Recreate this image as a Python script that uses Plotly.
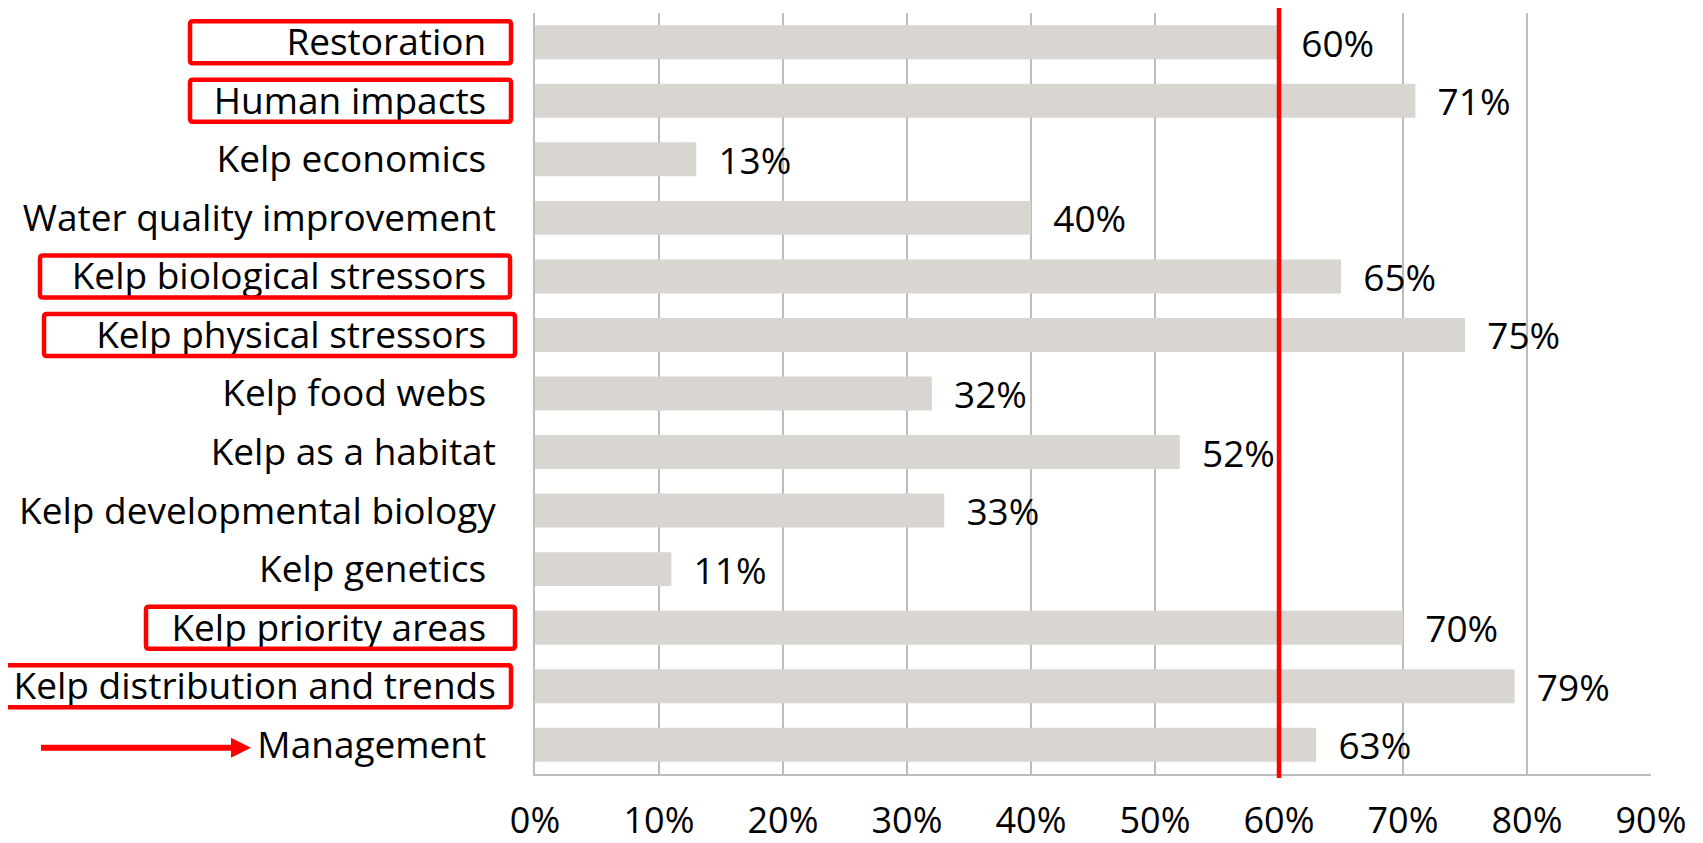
import plotly.graph_objects as go

# ---------------- data ----------------
categories = [
    "Restoration",
    "Human impacts",
    "Kelp economics",
    "Water quality improvement",
    "Kelp biological stressors",
    "Kelp physical stressors",
    "Kelp food webs",
    "Kelp as a habitat",
    "Kelp developmental biology",
    "Kelp genetics",
    "Kelp priority areas",
    "Kelp distribution and trends",
    "Management",
]
values = [60, 71, 13, 40, 65, 75, 32, 52, 33, 11, 70, 79, 63]
# labels that carry a trailing space in the original (shifted left a bit)
trailing_space = [True, True, True, False, True, True, True, False, False, True, True, False, True]
highlighted = ["Restoration", "Human impacts", "Kelp biological stressors",
               "Kelp physical stressors", "Kelp priority areas",
               "Kelp distribution and trends"]
x_ticks = [0, 10, 20, 30, 40, 50, 60, 70, 80, 90]
x_tick_labels = ["0%", "10%", "20%", "30%", "40%", "50%", "60%", "70%", "80%", "90%"]
threshold = 60

# ---------------- layout constants ----------------
OFF = 8                      # page body margin in the browser
VW, VH = 1703, 843           # visible window
PLOT_L, PLOT_R, PLOT_T, PLOT_B = 535, 1651, 13, 774   # plot area in window pixels
W, H = VW - OFF, VH - OFF
ML, MT = PLOT_L - OFF, PLOT_T - OFF
MR, MB = VW - PLOT_R, VH - PLOT_B
PW, PH = PLOT_R - PLOT_L, PLOT_B - PLOT_T
FONT = "Open Sans"
FS = 37
FS_X = 36
BAR_COLOR = "#D9D6D1"
GRID = "#BDBDBD"
RED = "#FF0000"

def px_x(p):
    return (p - PLOT_L) / PW

def px_y(p):
    return (PLOT_B - p) / PH

def rounded_rect(x0, y0, x1, y1, r=3):
    """Rounded rectangle path in paper coords from window-pixel extents."""
    pts = [
        f"M {px_x(x0 + r)} {px_y(y0)}",
        f"L {px_x(x1 - r)} {px_y(y0)}",
        f"Q {px_x(x1)} {px_y(y0)} {px_x(x1)} {px_y(y0 + r)}",
        f"L {px_x(x1)} {px_y(y1 - r)}",
        f"Q {px_x(x1)} {px_y(y1)} {px_x(x1 - r)} {px_y(y1)}",
        f"L {px_x(x0 + r)} {px_y(y1)}",
        f"Q {px_x(x0)} {px_y(y1)} {px_x(x0)} {px_y(y1 - r)}",
        f"L {px_x(x0)} {px_y(y0 + r)}",
        f"Q {px_x(x0)} {px_y(y0)} {px_x(x0 + r)} {px_y(y0)}",
        "Z",
    ]
    return " ".join(pts)

n = len(categories)
slot = PH / n

ticktext = [c + ("\u00a0" if t else "") for c, t in zip(categories, trailing_space)]

fig = go.Figure()
fig.add_trace(go.Bar(
    x=values,
    y=categories,
    orientation="h",
    marker=dict(color=BAR_COLOR, line=dict(width=0)),
    text=[f"\u00a0\u00a0{v}%" for v in values],
    textposition="outside",
    constraintext="none",
    textfont=dict(family=FONT, size=FS, color="black"),
    cliponaxis=False,
    hoverinfo="skip",
))

shapes = []
# threshold line
shapes.append(dict(type="line", xref="x", yref="paper",
                   x0=threshold, x1=threshold,
                   y0=px_y(778), y1=px_y(7),
                   line=dict(color=RED, width=4.5), layer="above"))

# highlight boxes around the labels (pixel extents of the boxes)
box_extents = {
    "Restoration": (190, 511),
    "Human impacts": (190, 511),
    "Kelp biological stressors": (40, 510),
    "Kelp physical stressors": (44, 515),
    "Kelp priority areas": (146, 515),
    "Kelp distribution and trends": (3, 511),
}
for name in highlighted:
    i = categories.index(name)
    cy = PLOT_T + (i + 0.5) * slot
    x0, x1 = box_extents[name]
    shapes.append(dict(type="path", xref="paper", yref="paper",
                       path=rounded_rect(x0, cy - 21, x1, cy + 21),
                       line=dict(color=RED, width=4.5), fillcolor="rgba(0,0,0,0)"))

# arrow pointing at "Management"
im = categories.index("Management")
ay = PLOT_T + (im + 0.5) * slot + 3
shapes.append(dict(type="line", xref="paper", yref="paper",
                   x0=px_x(41), x1=px_x(234), y0=px_y(ay), y1=px_y(ay),
                   line=dict(color=RED, width=6)))
shapes.append(dict(type="path", xref="paper", yref="paper",
                   path=f"M {px_x(231)} {px_y(ay - 10)} L {px_x(251)} {px_y(ay)} "
                        f"L {px_x(231)} {px_y(ay + 10)} Z",
                   fillcolor=RED, line=dict(color=RED, width=0)))

fig.update_layout(
    width=W, height=H,
    margin=dict(l=ML, r=MR, t=MT, b=MB, pad=0),
    paper_bgcolor="white", plot_bgcolor="white",
    bargap=0.42,
    showlegend=False,
    font=dict(family=FONT, size=FS, color="black"),
    shapes=shapes,
    xaxis=dict(
        range=[0, 90],
        tickvals=x_ticks, ticktext=x_tick_labels,
        showgrid=True, gridcolor=GRID, gridwidth=1.5,
        showline=True, linecolor=GRID, linewidth=1.5,
        zeroline=False,
        ticks="outside", ticklen=14, tickcolor="rgba(0,0,0,0)",
        tickfont=dict(family=FONT, size=FS_X, color="black"),
        automargin=False,
        fixedrange=True,
    ),
    yaxis=dict(
        categoryorder="array", categoryarray=categories,
        tickvals=categories, ticktext=ticktext,
        autorange="reversed",
        showgrid=False,
        showline=True, linecolor=GRID, linewidth=1.5,
        ticks="outside", ticklen=30, tickcolor="rgba(0,0,0,0)",
        tickfont=dict(family=FONT, size=FS, color="black"),
        automargin=False,
        fixedrange=True,
    ),
)

fig.write_html("out.html")
